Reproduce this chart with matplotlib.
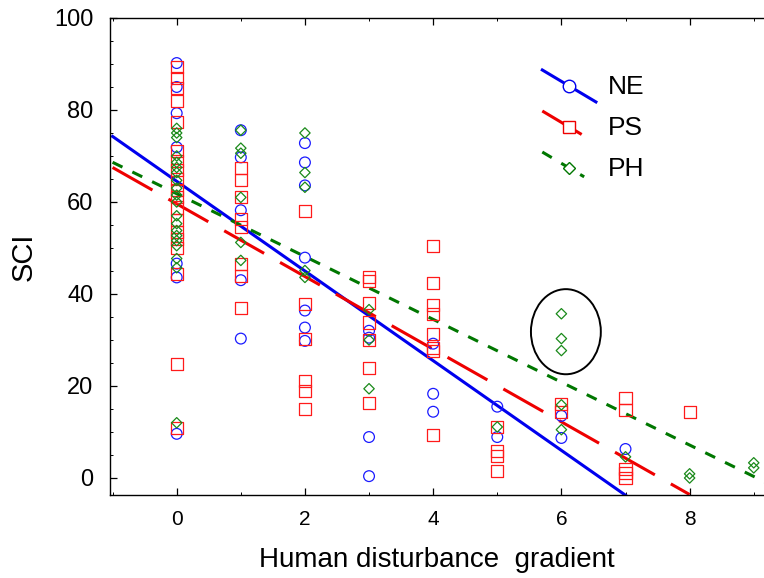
import matplotlib
matplotlib.use("Agg")
import matplotlib.pyplot as plt
from matplotlib.patches import Ellipse
from matplotlib.lines import Line2D
import numpy as np

plt.rcParams['font.family'] = ['Liberation Sans', 'DejaVu Sans']

# scatter values (disturbance level, SCI)
ne_x = [0, 0, 0, 0, 0, 0, 0, 1, 1, 1, 1, 1, 2, 2, 2, 2, 2, 2, 2,
        3, 3, 3, 3, 4, 4, 4, 5, 5, 6, 6, 7]
ne_y = [90.2, 85, 79.3, 71.9, 46.6, 43.6, 9.6, 75.6, 69.7, 58.2, 43, 30.3,
        72.8, 68.6, 63.6, 47.9, 36.4, 32.7, 29.8,
        32, 30.5, 8.9, 0.4, 29.2, 18.3, 14.4, 15.5, 8.9, 13.5, 8.7, 6.3]

ps_x = [0, 0, 0, 0, 0, 0, 0, 0, 0, 0, 0, 0, 0, 0, 0, 0, 0, 0, 0,
        1, 1, 1, 1, 1, 1, 1, 1, 2, 2, 2, 2, 2, 2,
        3, 3, 3, 3, 3, 3, 3, 4, 4, 4, 4, 4, 4, 4, 4,
        5, 5, 5, 5, 6, 6, 7, 7, 7, 7, 7, 8]
ps_y = [89.3, 87, 84.7, 82, 77.3, 71, 69, 67, 65, 61, 58.8, 56, 53.4, 52, 50,
        44.4, 24.8, 10.9, 62.5,
        67.3, 64.7, 61, 56.4, 54.5, 46.6, 44, 37, 58, 37.9, 30.3, 21.1, 19, 15,
        43.6, 42.9, 38.1, 33.8, 30, 24, 16.3,
        50.5, 42.3, 37.7, 35.7, 31.2, 28.3, 27.7, 9.4,
        11.1, 5.9, 4.8, 1.5, 16.1, 14.4, 17.4, 14.8, 2, 1, 0, 14.4]

ph_x = [0] * 20 + [1, 1, 1, 1, 1, 1, 2, 2, 2, 2, 2, 3, 3, 3,
                   5, 6, 6, 6, 6, 6, 7, 8, 8, 9, 9]
ph_y = [76, 75, 74, 70, 68.6, 67.5, 66.4, 64.7, 63, 57, 55.3, 53.8, 52.7, 51.6,
        47.7, 45.7, 12, 60, 61.5, 50.5,
        75.6, 71.7, 70.6, 61, 51.2, 47.3, 75, 66.4, 63.2, 45.1, 43.6,
        36.6, 30, 19.4,
        11.1, 35.7, 30.3, 27.7, 15.9, 10.5, 4.6, 0.9, 0, 3.3, 2.2]

# regression lines: intercept, slope, x range
ne_fit = (64.5, -9.75, -1.0, 7.0)
ps_fit = (59.6, -7.9, -1.0, 8.0)
ph_fit = (61.8, -6.83, -1.0, 9.2)

fig = plt.figure(figsize=(7.64, 5.78), dpi=100)
ax = fig.add_axes([0.144, 0.1436, 0.856, 0.8253])

ax.scatter(ne_x, ne_y, s=60, marker='o', facecolors='none', edgecolors='#1a1aff', linewidths=0.9, zorder=3)
ax.scatter(ps_x, ps_y, s=75, marker='s', facecolors='none', edgecolors='#ff1a1a', linewidths=0.9, zorder=3)
ax.scatter(ph_x, ph_y, s=28, marker='D', facecolors='none', edgecolors='#1a8a1a', linewidths=0.9, zorder=3)

def fit_line(fit, **kw):
    b, m, x0, x1 = fit
    xs = np.array([x0, x1])
    ax.plot(xs, b + m * xs, **kw)

fit_line(ne_fit, color='#0000ee', lw=2.2, zorder=2)
fit_line(ps_fit, color='#ee0000', lw=2.2, dashes=(15, 6), zorder=2)
fit_line(ph_fit, color='#007700', lw=2.2, dashes=(3.6, 3.6), zorder=2)

ax.add_patch(Ellipse((6.07, 31.8), 1.09, 18.5, fill=False, edgecolor='black', lw=1.4))

# legend drawn by hand with sloped keys
keys = [('NE', '#0000ee', 'o', 9, None, 0.891, 0.824),
        ('PS', '#ee0000', 's', 9, (15, 6), 0.805, 0.738),
        ('PH', '#007700', 'D', 6, (3.6, 3.6), 0.719, 0.667)]
for label, col, mk, ms, dash, ya, yb in keys:
    xb = 0.743 if label != 'PH' else 0.725
    ln = Line2D([0.661, xb], [ya, yb], transform=ax.transAxes, color=col, lw=2.2)
    if dash:
        ln.set_dashes(dash)
    ax.add_line(ln)
    ym = ya + (yb - ya) * (0.702 - 0.661) / (xb - 0.661)
    ax.add_line(Line2D([0.702], [ym], transform=ax.transAxes, marker=mk, ms=ms,
                       mfc='white', mec=col, mew=1.0, ls='none'))
    ax.text(0.761, ym - 0.002, label, transform=ax.transAxes, fontsize=19, va='center', ha='left')

ax.set_xlim(-1.04, 9.16)
ax.set_ylim(-3.7, 100)
ax.set_xticks([0, 2, 4, 6, 8])
ax.set_xticks(range(-1, 10), minor=True)
ax.set_yticks([0, 20, 40, 60, 80, 100])
ax.set_yticks(range(0, 101, 5), minor=True)
ax.tick_params(axis='both', which='both', direction='in', top=True, right=False)
ax.tick_params(axis='both', which='major', length=5, width=0.9)
ax.tick_params(axis='both', which='minor', length=2.5, width=0.7)
ax.tick_params(axis='x', labelsize=15, pad=11)
ax.tick_params(axis='y', labelsize=17, pad=12)
ax.spines['right'].set_visible(False)
for s in ['left', 'top', 'bottom']:
    ax.spines[s].set_linewidth(1.0)

ax.set_ylabel('SCI', fontsize=21, labelpad=12)
ax.set_xlabel('Human disturbance  gradient', fontsize=20, labelpad=13)

fig.savefig('out.png', dpi=100)
